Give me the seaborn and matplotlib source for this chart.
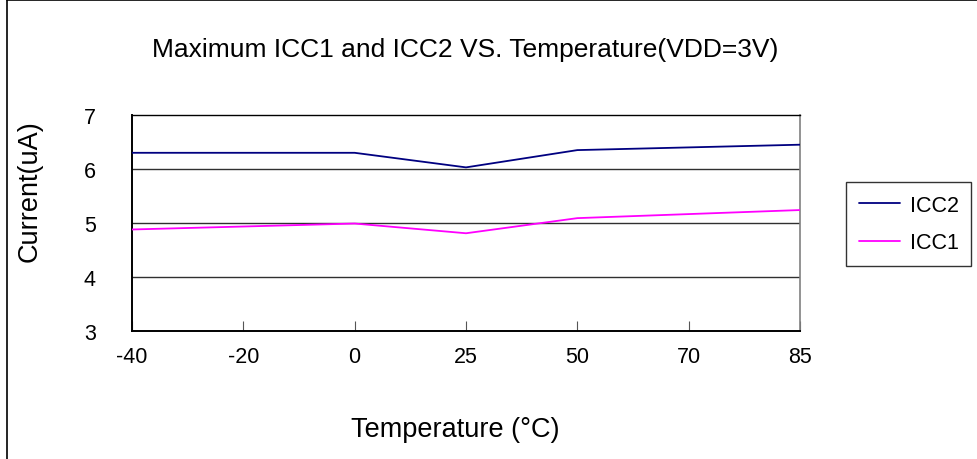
import matplotlib
matplotlib.use("Agg")
import matplotlib.pyplot as plt
from matplotlib.lines import Line2D
import seaborn as sns
import pandas as pd

categories = ["-40", "-20", "0", "25", "50", "70", "85"]
measured_temps = ["-40", "0", "25", "50", "85"]
icc2 = [6.30, 6.30, 6.03, 6.35, 6.45]
icc1 = [4.88, 4.99, 4.81, 5.09, 5.24]
series_names = ["ICC2", "ICC1"]
y_ticks = [3, 4, 5, 6, 7]

sns.set_theme(style="white")
plt.rcParams["font.family"] = ["Liberation Sans", "DejaVu Sans"]
plt.rcParams.update({"text.color": "black", "axes.labelcolor": "black",
                     "xtick.color": "black", "ytick.color": "black"})

pos = [categories.index(t) for t in measured_temps]
df = pd.DataFrame({
    "pos": pos * 2,
    "value": icc2 + icc1,
    "series": ["ICC2"] * len(icc2) + ["ICC1"] * len(icc1),
})

fig = plt.figure(figsize=(9.78, 4.6), dpi=100)
ax = fig.add_axes([132 / 978, 1 - 332 / 460, 668 / 978, 216 / 460])

sns.lineplot(data=df, x="pos", y="value", hue="series", hue_order=series_names,
             palette={"ICC2": "#000080", "ICC1": "#FF00FF"}, linewidth=1.3,
             ax=ax, legend=False, zorder=3)

ax.set_xlim(0, len(categories) - 1)
ax.set_ylim(3, 7)
ax.set_xticks(range(len(categories)))
ax.set_xticklabels(categories)
ax.set_yticks(y_ticks)
for yv in y_ticks[1:-1]:
    ax.axhline(yv, color="#303030", linewidth=1.0, zorder=1)

ax.tick_params(axis="x", direction="in", length=7, width=0.8, color="#555555",
               pad=11, labelsize=15.5, bottom=True, labelcolor="black")
ax.tick_params(axis="y", direction="in", length=0, pad=26, labelsize=15.5, left=True,
               labelcolor="black")
for lbl in ax.get_yticklabels():
    lbl.set_horizontalalignment("right")

for s in ["left", "bottom"]:
    ax.spines[s].set_color("black")
    ax.spines[s].set_linewidth(1.4)
ax.spines["top"].set_color("black")
ax.spines["top"].set_linewidth(1.0)
ax.spines["right"].set_color("#808080")
ax.spines["right"].set_linewidth(1.2)

ax.set_xlabel("")
ax.set_ylabel("")
fig.text(455 / 978, 1 - 430 / 460, "Temperature (°C)", ha="center", va="center",
         fontsize=19.5, color="black")
fig.text(30 / 978, 1 - 191 / 460, "Current(uA)", ha="center", va="center",
         rotation=90, fontsize=19.5, color="black")
fig.text(465 / 978, 1 - 50 / 460, "Maximum ICC1 and ICC2 VS. Temperature(VDD=3V)",
         ha="center", va="center", fontsize=19, color="black")

handles = [Line2D([0], [0], color="#000080", lw=1.3),
           Line2D([0], [0], color="#FF00FF", lw=1.3)]
leg = fig.legend(handles, series_names, loc="upper left",
                 bbox_to_anchor=(846 / 978, 1 - 183 / 460), fontsize=15.5,
                 frameon=True, fancybox=False, handlelength=1.9, handletextpad=0.45,
                 borderpad=0.6, labelspacing=0.75, borderaxespad=0)
leg.get_frame().set_edgecolor("black")
leg.get_frame().set_linewidth(1.0)

fig.add_artist(Line2D([7.5 / 978, 7.5 / 978], [0, 1 - 1 / 460], color="black",
                      lw=1.2, transform=fig.transFigure))
fig.add_artist(Line2D([7.5 / 978, 1], [1 - 1 / 460, 1 - 1 / 460], color="black",
                      lw=1.2, transform=fig.transFigure))

fig.savefig("out.png", dpi=100, facecolor="white")
